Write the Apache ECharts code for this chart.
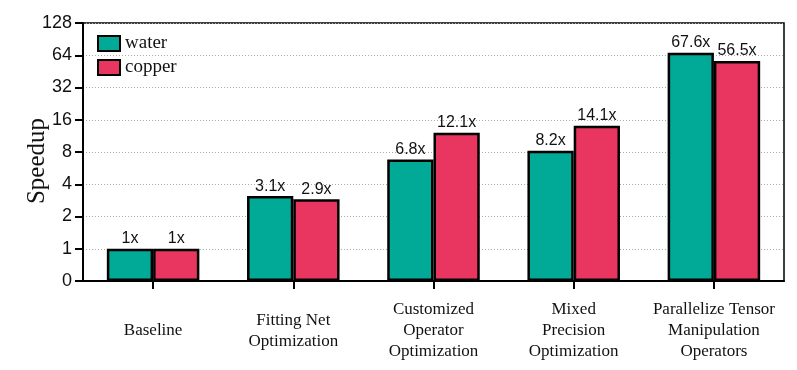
<!DOCTYPE html>
<html><head><meta charset="utf-8">
<script src="https://cdn.jsdelivr.net/npm/echarts@6/dist/echarts.min.js"></script>
<style>html,body{margin:0;padding:0;background:#fff}#c{width:797px;height:370px}</style>
</head><body><div id="c"></div>
<script>
const categories = ['Baseline', 'Fitting Net\nOptimization', 'Customized\nOperator\nOptimization', 'Mixed\nPrecision\nOptimization', 'Parallelize Tensor\nManipulation\nOperators'];
const water = [1, 3.1, 6.8, 8.2, 67.6];
const copper = [1, 2.9, 12.1, 14.1, 56.5];
const yTickLabels = ['0', '1', '2', '4', '8', '16', '32', '64', '128'];
const seriesNames = ['water', 'copper'];
const colors = ['#00AA97', '#E83661'];

// log2 scale where tick k shows yTickLabels[k]; "0" sits one step below 1
const toLevel = v => Math.log2(v) + 1;

const chart = echarts.init(document.getElementById('c'), null, {renderer: 'canvas'});
const mk = (name, arr, color) => ({
  name: name,
  type: 'bar',
  barGap: '0%',
  barCategoryGap: '34%',
  data: arr.map(toLevel),
  itemStyle: {color: color, borderColor: '#000', borderWidth: 2.5},
  label: {
    show: true, position: 'top', distance: 2,
    fontFamily: 'Liberation Sans, Arial', fontSize: 16, color: '#111',
    formatter: p => arr[p.dataIndex] + 'x'
  }
});
chart.setOption({
  animation: false,
  color: colors,
  grid: {left: 83, right: 13, top: 23, bottom: 89, show: true, borderColor: '#000', borderWidth: 1.5},
  legend: {
    orient: 'vertical', left: 97, top: 34, padding: 0, itemWidth: 22, itemHeight: 15, itemGap: 5,
    icon: 'rect',
    textStyle: {fontFamily: 'Liberation Serif, Times New Roman', fontSize: 19, color: '#111'},
    data: seriesNames
  },
  xAxis: {
    type: 'category', data: categories,
    axisLine: {lineStyle: {color: '#000', width: 2}},
    axisTick: {show: true, alignWithLabel: true, length: 8, lineStyle: {color: '#000', width: 2}},
    axisLabel: {
      interval: 0, margin: 50, verticalAlign: 'middle', lineHeight: 21,
      fontFamily: 'Liberation Serif, Times New Roman', fontSize: 17, color: '#111'
    }
  },
  yAxis: {
    type: 'value', min: 0, max: 8, interval: 1,
    name: 'Speedup', nameLocation: 'middle', nameGap: 33, nameRotate: 90, nameMoveOverlap: false,
    nameTextStyle: {fontFamily: 'Liberation Serif, Times New Roman', fontSize: 25, color: '#111', padding: [0, 18, 0, 0]},
    axisLine: {show: true, lineStyle: {color: '#000', width: 2}},
    axisTick: {show: true, length: 8, lineStyle: {color: '#000', width: 2}},
    axisLabel: {
      margin: 11, fontFamily: 'Liberation Sans, Arial', fontSize: 18, color: '#111',
      formatter: v => yTickLabels[Math.round(v)]
    },
    splitLine: {show: true, lineStyle: {color: '#aaa', type: [1, 2], width: 1}}
  },
  series: [mk(seriesNames[0], water, colors[0]), mk(seriesNames[1], copper, colors[1])]
});
</script></body></html>
